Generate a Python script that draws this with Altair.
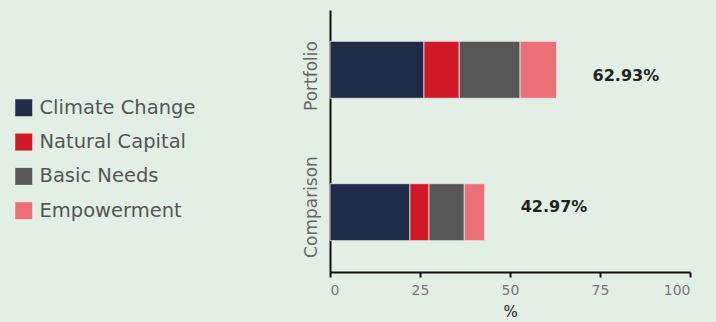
import altair as alt
import pandas as pd

categories = ["Portfolio", "Comparison"]
series = ["Climate Change", "Natural Capital", "Basic Needs", "Empowerment"]
portfolio_vals = [26.1, 9.8, 16.9, 10.13]
comparison_vals = [22.2, 5.3, 9.8, 5.67]
totals = [62.93, 42.97]
colors = ["#202b47", "#d01926", "#575757", "#ec7078"]

rows = []
for cat, vals in zip(categories, [portfolio_vals, comparison_vals]):
    for i, (s, v) in enumerate(zip(series, vals)):
        rows.append({"group": cat, "series": s, "value": v, "order": i})
df = pd.DataFrame(rows)
tot = pd.DataFrame({"group": categories, "total": totals,
                    "label": [f"{t:.2f}%" for t in totals]})

FONT = "DejaVu Sans"

bars = alt.Chart(df).mark_bar(stroke="#e8e8e8", strokeWidth=0.8).encode(
    x=alt.X("value:Q", stack="zero", title="%",
            scale=alt.Scale(domain=[0, 100]),
            axis=alt.Axis(values=[0, 25, 50, 75, 100], grid=False, tickSize=5,
                          tickColor="#111111", tickWidth=2, domainColor="#111111",
                          domainWidth=2, labelFontSize=14, labelColor="#777777",
                          labelFont=FONT, labelPadding=6, titleFontSize=15,
                          titleColor="#222222", titleFont=FONT, titleFontWeight="normal",
                          titlePadding=7)),
    y=alt.Y("group:N", sort=categories, title=None,
            scale=alt.Scale(paddingInner=0.6, paddingOuter=0.22), axis=None),
    color=alt.Color("series:N", sort=series,
                    scale=alt.Scale(domain=series, range=colors),
                    legend=alt.Legend(title=None, orient="none", legendX=-316, legendY=88,
                                      symbolType="square", symbolSize=289,
                                      symbolStrokeWidth=0, labelFontSize=19.5,
                                      labelColor="#555555", labelFont=FONT,
                                      labelOffset=6, rowPadding=13.3)),
    order=alt.Order("order:Q"),
)

labels = alt.Chart(tot).mark_text(align="left", baseline="middle", dx=36,
                                  fontSize=16, fontWeight="bold", color="#222222",
                                  font=FONT).encode(
    x=alt.X("total:Q"),
    y=alt.Y("group:N", sort=categories, title=None,
            scale=alt.Scale(paddingInner=0, paddingOuter=0),
            axis=alt.Axis(labelAngle=-90, labelAlign="center", labelBaseline="bottom",
                          labelPadding=10, ticks=False, labelFontSize=17,
                          labelColor="#666666", labelFont=FONT,
                          domainColor="#111111", domainWidth=2)),
    text="label:N",
)

chart = (bars + labels).resolve_scale(y="independent").properties(
    width=360, height=262,
    autosize=alt.AutoSizeParams(type="none"),
    padding={"left": 330, "top": 10, "right": 26, "bottom": 50},
    background="#e2efe5",
).configure_view(stroke=None)

chart.save("out.html", embed_options={"renderer": "svg", "actions": False})
